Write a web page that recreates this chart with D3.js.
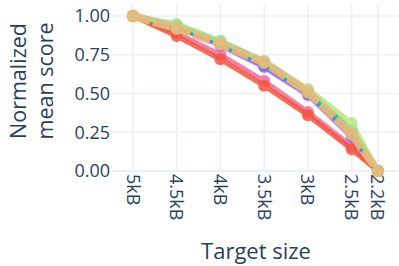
<!DOCTYPE html>
<html>
<head>
<meta charset="utf-8">
<script src="https://cdn.jsdelivr.net/npm/d3@7"></script>
<style>
  body { margin: 0; background: #fff; }
  svg { display: block; font-family: "Open Sans", sans-serif; }
</style>
</head>
<body>
<div id="chart"></div>
<script>
var sizes = [5, 4.5, 4, 3.5, 3, 2.5, 2.2];
var sizeLabels = ["5kB", "4.5kB", "4kB", "3.5kB", "3kB", "2.5kB", "2.2kB"];
var yTicks = [0, 0.25, 0.5, 0.75, 1];

var pinkScores = [1, 0.89, 0.75, 0.58, 0.38, 0.16, 0];
var redScores = [1, 0.87, 0.72, 0.55, 0.36, 0.14, 0];
var purpleScores = [1, 0.93, 0.81, 0.67, 0.49, 0.22, 0];
var blueScores = [1, 0.93, 0.82, 0.68, 0.50, 0.24, 0];
var cyanScores = [1, 0.94, 0.84, 0.71, 0.52, 0.27, 0];
var greenScores = [1, 0.94, 0.83, 0.70, 0.51, 0.26, 0];
var limeScores = [1, 0.95, 0.84, 0.71, 0.53, 0.31, 0];
var tanScores = [1, 0.92, 0.82, 0.70, 0.51, 0.24, 0];

var series = [
  { values: pinkScores, color: "#FF6692" },
  { values: redScores, color: "#EF553B" },
  { values: purpleScores, color: "#AB63FA" },
  { values: blueScores, color: "#636EFA" },
  { values: cyanScores, color: "#8fd8f0" },
  { values: greenScores, color: "#00CC96" },
  { values: limeScores, color: "#B6E880" },
  { values: tanScores, color: "#e8b97c", dash: "18,3" }
];

var width = 399;
var height = 266;
var plotLeft = 112, plotRight = 398, plotTop = 4, plotBottom = 172;
var textColor = "#2a3f5f";
var gridColor = "#EBF0F8";

var x = d3.scaleLinear().domain([5.24, 1.97]).range([plotLeft, plotRight]);
var y = d3.scaleLinear().domain([0, 1.077]).range([plotBottom - 1, plotTop]);

var svg = d3.select("#chart")
  .append("svg")
  .attr("width", width)
  .attr("height", height);

// grid
svg.append("g")
  .selectAll("line")
  .data(sizes)
  .enter()
  .append("line")
  .attr("x1", function(d) { return x(d); })
  .attr("x2", function(d) { return x(d); })
  .attr("y1", plotTop)
  .attr("y2", plotBottom)
  .attr("stroke", gridColor)
  .attr("stroke-width", 1.5);

svg.append("g")
  .selectAll("line")
  .data(yTicks)
  .enter()
  .append("line")
  .attr("x1", plotLeft)
  .attr("x2", plotRight)
  .attr("y1", function(d) { return y(d); })
  .attr("y2", function(d) { return y(d); })
  .attr("stroke", gridColor)
  .attr("stroke-width", function(d) { return d === 0 ? 2 : 1.5; });

// y tick labels
svg.append("g")
  .selectAll("text")
  .data(yTicks)
  .enter()
  .append("text")
  .attr("x", plotLeft - 2)
  .attr("y", function(d) { return y(d); })
  .attr("dy", "0.36em")
  .attr("text-anchor", "end")
  .attr("fill", textColor)
  .style("font-size", "18px")
  .text(function(d) { return d3.format(".2f")(d); });

// x tick labels, rotated
svg.append("g")
  .selectAll("text")
  .data(sizes)
  .enter()
  .append("text")
  .attr("transform", function(d) { return "translate(" + x(d) + "," + (plotBottom + 2) + ") rotate(90)"; })
  .attr("dy", "0.36em")
  .attr("text-anchor", "start")
  .attr("fill", textColor)
  .style("font-size", "18px")
  .text(function(d, i) { return sizeLabels[i]; });

// axis titles
svg.append("text")
  .attr("x", 256)
  .attr("y", 259)
  .attr("text-anchor", "middle")
  .attr("fill", textColor)
  .style("font-size", "22px")
  .text("Target size");

var yTitle = svg.append("text")
  .attr("transform", "translate(26,81) rotate(-90)")
  .attr("text-anchor", "middle")
  .attr("fill", textColor)
  .style("font-size", "21.5px");
yTitle.append("tspan").attr("x", 0).attr("y", 0).text("Normalized");
yTitle.append("tspan").attr("x", 0).attr("y", 27).text("mean score");

// lines
var line = d3.line()
  .x(function(d, i) { return x(sizes[i]); })
  .y(function(d) { return y(d); });

series.forEach(function(s) {
  var g = svg.append("g").attr("opacity", s.dash ? 0.92 : 0.85);
  g.append("path")
    .attr("d", line(s.values))
    .attr("fill", "none")
    .attr("stroke", s.color)
    .attr("stroke-width", s.dash ? 8 : 5)
    .attr("stroke-dasharray", s.dash || null)
    .attr("stroke-linejoin", "round");
  g.selectAll("circle")
    .data(s.values)
    .enter()
    .append("circle")
    .attr("cx", function(d, i) { return x(sizes[i]); })
    .attr("cy", function(d) { return y(d); })
    .attr("r", s.dash ? 6.5 : 6)
    .attr("fill", s.color);
});
</script>
</body>
</html>
